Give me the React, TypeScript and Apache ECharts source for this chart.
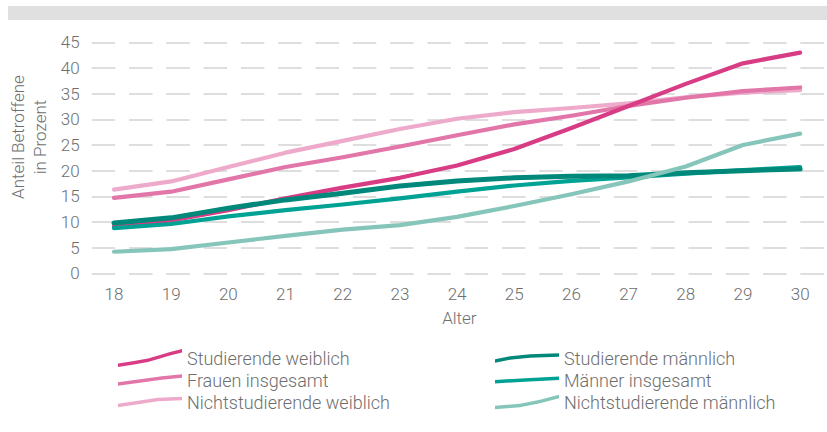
import React, { useEffect, useRef } from "react";
import * as echarts from "echarts";

const ages = [18, 19, 20, 21, 22, 23, 24, 25, 26, 27, 28, 29, 30];
const yTicks = [0, 5, 10, 15, 20, 25, 30, 35, 40, 45];

const seriesNames = [
  "Studierende weiblich",
  "Frauen insgesamt",
  "Nichtstudierende weiblich",
  "Studierende männlich",
  "Männer insgesamt",
  "Nichtstudierende männlich",
];

const studierendeWeiblich = [9.1, 10.3, 12.3, 14.6, 16.7, 18.6, 21.0, 24.2, 28.3, 32.6, 36.9, 40.9, 43.0];
const frauenInsgesamt = [14.7, 15.9, 18.3, 20.7, 22.6, 24.7, 26.9, 29.0, 30.7, 32.6, 34.2, 35.5, 36.2];
const nichtstudierendeWeiblich = [16.3, 17.9, 20.7, 23.5, 25.8, 28.1, 30.1, 31.4, 32.2, 33.1, 34.3, 35.2, 35.7];
const studierendeMaennlich = [9.8, 10.8, 12.7, 14.3, 15.6, 17.0, 18.0, 18.6, 18.9, 19.0, 19.6, 20.0, 20.3];
const maennerInsgesamt = [8.8, 9.6, 11.1, 12.3, 13.4, 14.6, 15.9, 17.1, 18.0, 18.7, 19.4, 20.1, 20.7];
const nichtstudierendeMaennlich = [4.2, 4.7, 6.0, 7.3, 8.5, 9.4, 11.0, 13.1, 15.4, 17.9, 20.8, 25.0, 27.2];

const seriesValues = [
  studierendeWeiblich,
  frauenInsgesamt,
  nichtstudierendeWeiblich,
  studierendeMaennlich,
  maennerInsgesamt,
  nichtstudierendeMaennlich,
];

const colors = ["#d73c85", "#e276a8", "#eeaaca", "#00897a", "#00a294", "#86c5ba"];
const widths = [4.2, 4.2, 4.2, 5, 4.2, 4.2];
const drawOrder = [2, 1, 0, 4, 3, 5];

// legend icon centerlines (x 0..64, y down)
const iconLines: number[][][] = [
  [[0, 15.5], [16, 13], [30, 10.5], [42, 7], [52, 4], [64, 1]],
  [[0, 9], [22, 6], [44, 3], [64, 1]],
  [[0, 8], [20, 5], [40, 2], [64, 1.2]],
  [[0, 7], [15, 4], [35, 2], [64, 1]],
  [[0, 4], [30, 2.2], [64, 0.5]],
  [[0, 12], [25, 10], [45, 6], [64, 1]],
];

function bandPath(pts: number[][], t: number): string {
  const up = pts.map((p) => `${p[0]} ${p[1]}`);
  const down = pts.slice().reverse().map((p) => `${p[0]} ${p[1] + t}`);
  return "path://M" + up.join(" L") + " L" + down.join(" L") + " Z";
}

const FONT = "Roboto, 'Open Sans', sans-serif";
const TEXT = "#6e6e6e";

export default function App() {
  const ref = useRef<HTMLDivElement>(null);
  useEffect(() => {
    if (!ref.current) return;
    const chart = echarts.init(ref.current, null, { renderer: "svg" });

    const series = drawOrder.map((i) => ({
      name: seriesNames[i],
      type: "line",
      data: ages.map((a, k) => [a, seriesValues[i][k]]),
      showSymbol: false,
      symbol: "none",
      lineStyle: { color: colors[i], width: widths[i], cap: "round", join: "round" },
      itemStyle: { color: colors[i] },
      z: 2,
    }));

    const legendCommon = {
      orient: "vertical",
      padding: 0,
      itemWidth: 64,
      itemHeight: 20,
      itemGap: 2,
      symbolKeepAspect: true,
      selectedMode: false,
      textStyle: {
        fontFamily: FONT,
        fontSize: 18,
        lineHeight: 20,
        fontWeight: 300,
        color: TEXT,
        padding: [0, 0, 0, 0],
      },
    };

    chart.setOption({
      animation: false,
      color: colors,
      textStyle: { fontFamily: FONT },
      grid: { left: 91.7, right: 0, top: 42.3, height: 231, containLabel: false },
      xAxis: {
        type: "value",
        min: 17.61,
        max: 30.47,
        axisLine: { show: false },
        axisTick: { show: false },
        splitLine: { show: false },
        axisLabel: {
          customValues: ages,
          margin: 12,
          color: TEXT,
          fontSize: 17,
          fontWeight: 300,
          fontFamily: FONT,
        },
        name: "Alter",
        nameLocation: "middle",
        nameGap: 36,
        nameTextStyle: { color: TEXT, fontSize: 17, fontWeight: 300, fontFamily: FONT },
      },
      yAxis: {
        type: "value",
        min: 0,
        max: 45,
        interval: 5,
        axisLine: { show: false },
        axisTick: { show: false },
        axisLabel: {
          margin: 12,
          color: TEXT,
          fontSize: 17,
          fontWeight: 300,
          fontFamily: FONT,
          customValues: yTicks,
        },
        splitLine: {
          show: true,
          lineStyle: { color: "#dedede", width: 2.2, type: [23.5, 13.8] },
        },
      },
      legend: [
        {
          ...legendCommon,
          left: 118,
          top: 348,
          data: [0, 1, 2].map((i) => ({ name: seriesNames[i], icon: bandPath(iconLines[i], 3.5) })),
        },
        {
          ...legendCommon,
          left: 495,
          top: 348,
          data: [3, 4, 5].map((i) => ({ name: seriesNames[i], icon: bandPath(iconLines[i], 3.5) })),
        },
      ],
      graphic: [
        {
          type: "rect",
          shape: { x: 8, y: 6, width: 819, height: 14 },
          style: { fill: "#e0e0e0" },
          silent: true,
        },
        {
          type: "text",
          x: 29,
          y: 137,
          rotation: Math.PI / 2,
          style: {
            text: "Anteil Betroffene\nin Prozent",
            fontSize: 17,
            lineHeight: 22,
            fontWeight: 300,
            fontFamily: FONT,
            fill: TEXT,
            align: "center",
            verticalAlign: "middle",
          },
          silent: true,
        },
      ],
      series,
    });
    return () => chart.dispose();
  }, []);
  return (
    <div
      ref={ref}
      style={{ position: "fixed", left: 0, top: 0, width: 827, height: 432, background: "#fff" }}
    />
  );
}
